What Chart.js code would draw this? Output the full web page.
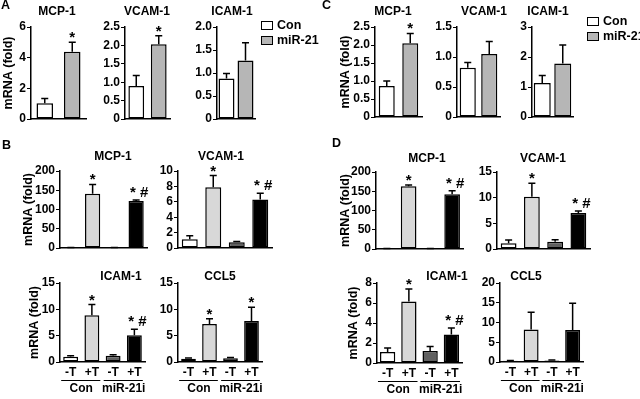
<!DOCTYPE html>
<html>
<head>
<meta charset="utf-8">
<script src="https://cdn.jsdelivr.net/npm/chart.js@4"></script>
<style>
  body { margin: 0; width: 640px; height: 399px; position: relative; overflow: hidden; background: #fff;
         font-family: "Liberation Sans", Arial, sans-serif; font-weight: bold; color: #000; }
  canvas { position: absolute; }
  .ttl { position: absolute; width: 120px; text-align: center; font-size: 12px; line-height: 14px; }
  .pnl { position: absolute; font-size: 12.5px; line-height: 14px; }
  .lg { position: absolute; font-size: 12.5px; }
  .lg div { height: 15.5px; line-height: 15.5px; white-space: nowrap; }
  .lg i { display: inline-block; box-sizing: border-box; width: 12px; height: 9px; border: 1.5px solid #000;
          vertical-align: -1px; margin-right: 4px; }
</style>
</head>
<body>
<script>
// categories
const pairLabels = ['Con', 'miR-21'];
const treatLabels = ['-T', '+T', '-T', '+T'];
const groupLabels = ['Con', 'miR-21i'];
const yTitle = 'mRNA (fold)';

// panel A (mean, error)
const aMcp = [1.03, 4.38], aMcpErr = [0.31, 0.62], aMcpSig = ['', '*'];
const aVcam = [0.9, 2.03], aVcamErr = [0.28, 0.23], aVcamSig = ['', '*'];
const aIcam = [0.88, 1.27], aIcamErr = [0.11, 0.39], aIcamSig = ['', ''];

// panel C
const cMcp = [0.86, 2.05], cMcpErr = [0.14, 0.27], cMcpSig = ['', '*'];
const cVcam = [0.82, 1.05], cVcamErr = [0.09, 0.21], cVcamSig = ['', ''];
const cIcam = [1.13, 1.78], cIcamErr = [0.25, 0.62], cIcamSig = ['', ''];

// panel B
const bMcp = [1, 141, 1, 122], bMcpErr = [0.5, 24, 0.5, 3], bMcpSig = ['', '*', '', '* #'];
const bVcam = [1.15, 7.9, 0.75, 6.3], bVcamErr = [0.45, 1.5, 0.11, 0.8], bVcamSig = ['', '*', '', '* #'];
const bIcam = [1.0, 8.9, 1.2, 5.1], bIcamErr = [0.2, 2.0, 0.2, 1.1], bIcamSig = ['', '*', '', '* #'];
const bCcl5 = [0.6, 7.2, 0.7, 7.8], bCcl5Err = [0.15, 1.0, 0.15, 2.6], bCcl5Sig = ['', '*', '', '*'];

// panel D
const dMcp = [1, 163, 1, 142], dMcpErr = [0.5, 3, 0.5, 9], dMcpSig = ['', '*', '', '* #'];
const dVcam = [1.1, 10.2, 1.4, 7.0], dVcamErr = [0.65, 2.6, 0.4, 0.4], dVcamSig = ['', '*', '', '* #'];
const dIcam = [1.1, 6.15, 1.2, 2.85], dIcamErr = [0.4, 1.25, 0.45, 0.65], dIcamSig = ['', '*', '', '* #'];
const dCcl5 = [0.3, 8.2, 0.4, 8.1], dCcl5Err = [0.1, 4.4, 0.1, 6.8], dCcl5Sig = ['', '', '', ''];

const FONT = '"Liberation Sans", Arial, sans-serif';
const pairColors = ['#ffffff', '#b6b6b6'];
const treatColors = ['#ffffff', '#d8d8d8', '#606060', '#000000'];

// where each small plot sits on the page (axis box in px)
const plots = [
  { name: 'MCP-1', x0: 31, x1: 86, top: 27, bot: 119, max: 6, step: 2, v: aMcp, e: aMcpErr, s: aMcpSig, pair: true, bar: 0.6, yt: 8, tx: 57, ty: 10.5 },
  { name: 'VCAM-1', x0: 125, x1: 170, top: 27, bot: 119, max: 2.5, step: 0.5, v: aVcam, e: aVcamErr, s: aVcamSig, pair: true, bar: 0.7, tx: 147, ty: 10.5 },
  { name: 'ICAM-1', x0: 217, x1: 255, top: 27, bot: 119, max: 2, step: 0.5, v: aIcam, e: aIcamErr, s: aIcamSig, pair: true, bar: 0.84, tx: 232, ty: 10.5 },

  { name: 'MCP-1', x0: 375, x1: 422, top: 27, bot: 117, max: 2.5, step: 0.5, v: cMcp, e: cMcpErr, s: cMcpSig, pair: true, bar: 0.68, yt: 345, tx: 393, ty: 11 },
  { name: 'VCAM-1', x0: 457, x1: 500, top: 27, bot: 117, max: 1.5, step: 0.5, v: cVcam, e: cVcamErr, s: cVcamSig, pair: true, bar: 0.75, tx: 484, ty: 11 },
  { name: 'ICAM-1', x0: 532, x1: 573, top: 27, bot: 117, max: 3, step: 1, v: cIcam, e: cIcamErr, s: cIcamSig, pair: true, bar: 0.83, tx: 548, ty: 11 },

  { name: 'MCP-1', x0: 60, x1: 147, top: 171, bot: 248, max: 200, step: 50, v: bMcp, e: bMcpErr, s: bMcpSig, bar: 0.7, yt: 28, tx: 113, ty: 156 },
  { name: 'VCAM-1', x0: 178, x1: 272, top: 171, bot: 248, max: 10, step: 2, v: bVcam, e: bVcamErr, s: bVcamSig, bar: 0.68, tx: 221, ty: 156 },
  { name: 'ICAM-1', x0: 60, x1: 145, top: 283, bot: 362, max: 15, step: 5, v: bIcam, e: bIcamErr, s: bIcamSig, bar: 0.7, yt: 34, tx: 121, ty: 276, xl: true },
  { name: 'CCL5', x0: 178, x1: 262, top: 283, bot: 362, max: 15, step: 5, v: bCcl5, e: bCcl5Err, s: bCcl5Sig, bar: 0.7, tx: 220, ty: 276, xl: true },

  { name: 'MCP-1', x0: 376, x1: 463, top: 172, bot: 249, max: 200, step: 50, v: dMcp, e: dMcpErr, s: dMcpSig, bar: 0.72, yt: 345, tx: 427, ty: 157.5 },
  { name: 'VCAM-1', x0: 497, x1: 590, top: 172, bot: 249, max: 15, step: 5, v: dVcam, e: dVcamErr, s: dVcamSig, bar: 0.68, tx: 543, ty: 157.5 },
  { name: 'ICAM-1', x0: 377, x1: 462, top: 283, bot: 363, max: 8, step: 2, v: dIcam, e: dIcamErr, s: dIcamSig, bar: 0.72, yt: 353, tx: 447, ty: 276, xl: true },
  { name: 'CCL5', x0: 500, x1: 583, top: 283, bot: 362, max: 20, step: 5, v: dCcl5, e: dCcl5Err, s: dCcl5Sig, bar: 0.72, tx: 526, ty: 276, xl: true }
];

// error bars, stars and the Con / miR-21i brackets
const extras = {
  id: 'extras',
  afterDatasetsDraw(chart) {
    const ctx = chart.ctx;
    const ds = chart.data.datasets[0];
    const bars = chart.getDatasetMeta(0).data;
    const y = chart.scales.y;
    ctx.save();
    ctx.strokeStyle = '#000';
    ctx.fillStyle = '#000';
    ctx.lineWidth = 1.5;
    bars.forEach((b, i) => {
      const base = y.getPixelForValue(ds.data[i]);
      const tip = y.getPixelForValue(ds.data[i] + ds.errors[i]);
      ctx.beginPath();
      ctx.moveTo(b.x, base);
      ctx.lineTo(b.x, tip);
      ctx.moveTo(b.x - 3.5, tip);
      ctx.lineTo(b.x + 3.5, tip);
      ctx.stroke();
      const m = ds.marks[i];
      if (m) {
        ctx.font = 'bold 15px ' + FONT;
        ctx.textAlign = 'center';
        ctx.textBaseline = 'alphabetic';
        ctx.fillText(m, b.x + (m.length > 1 ? 3 : 0), tip - (m.length > 1 ? 3 : 0));
      }
    });
    if (ds.groups) {
      const bottom = chart.chartArea.bottom;
      ctx.font = 'bold 12px ' + FONT;
      ctx.textAlign = 'center';
      ctx.textBaseline = 'middle';
      ctx.lineWidth = 1;
      ds.groups.forEach((g, k) => {
        const a = bars[k * 2], c = bars[k * 2 + 1];
        ctx.beginPath();
        ctx.moveTo(a.x - a.width / 2 - 2, bottom + 18.5);
        ctx.lineTo(c.x + c.width / 2 + 1, bottom + 18.5);
        ctx.stroke();
        ctx.fillText(g, (a.x + c.x) / 2, bottom + 27);
      });
    }
    ctx.restore();
  }
};

plots.forEach(p => {
  const topPad = 18;
  const left = Math.round(p.yt ? p.yt - 7.5 : p.x0 - 32);
  const top = p.top - topPad;
  const below = p.xl ? 36 : 10;
  const yw = p.x0 - left;
  const cv = document.createElement('canvas');
  cv.width = p.x1 - left + 6;
  cv.height = p.bot - top + below;
  cv.style.left = left + 'px';
  cv.style.top = top + 'px';
  document.body.appendChild(cv);

  new Chart(cv, {
    type: 'bar',
    data: {
      labels: p.pair ? pairLabels : treatLabels,
      datasets: [{
        data: p.v,
        errors: p.e,
        marks: p.s,
        groups: p.xl ? groupLabels : null,
        backgroundColor: p.pair ? pairColors : treatColors,
        borderColor: '#000',
        borderWidth: 1.5,
        borderSkipped: false,
        categoryPercentage: 1,
        barPercentage: p.bar
      }]
    },
    options: {
      responsive: false,
      animation: false,
      events: [],
      layout: { padding: { top: topPad, right: 6, bottom: 0, left: 0 } },
      plugins: { legend: { display: false }, tooltip: { enabled: false } },
      scales: {
        x: {
          grid: { display: false, drawTicks: false },
          border: { display: true, color: '#000', width: 1.5 },
          ticks: { display: !!p.xl, autoSkip: false, maxRotation: 0, color: '#000', padding: 3, font: { family: FONT, size: 12, weight: 'bold' } },
          afterFit: s => { s.height = below; }
        },
        y: {
          min: 0,
          max: p.max,
          grid: { display: true, drawOnChartArea: false, drawTicks: true, tickLength: 4, color: '#000', lineWidth: 1 },
          border: { display: true, color: '#000', width: 1.5 },
          ticks: { stepSize: p.step, autoSkip: false, color: '#000', padding: 1, font: { family: FONT, size: 12, weight: 'bold' } },
          title: { display: !!p.yt, text: yTitle, color: '#000', padding: 0, font: { family: FONT, size: 12.5, weight: 'bold' } },
          afterFit: s => { s.width = yw; }
        }
      }
    },
    plugins: [extras]
  });

  const t = document.createElement('div');
  t.className = 'ttl';
  t.textContent = p.name;
  t.style.left = (p.tx - 60) + 'px';
  t.style.top = (p.ty - 7) + 'px';
  document.body.appendChild(t);
});

// panel letters
[['A', 1, -2], ['C', 322, -2], ['B', 2, 138], ['D', 332, 136]].forEach(([txt, x, y]) => {
  const d = document.createElement('div');
  d.className = 'pnl';
  d.textContent = txt;
  d.style.left = x + 'px';
  d.style.top = y + 'px';
  document.body.appendChild(d);
});

// legends for A and C
[[261, 17.5], [587, 13.5]].forEach(([x, y]) => {
  const lg = document.createElement('div');
  lg.className = 'lg';
  lg.style.left = x + 'px';
  lg.style.top = y + 'px';
  pairLabels.forEach((name, i) => {
    const row = document.createElement('div');
    const box = document.createElement('i');
    box.style.background = pairColors[i];
    row.appendChild(box);
    row.appendChild(document.createTextNode(name));
    lg.appendChild(row);
  });
  document.body.appendChild(lg);
});
</script>
</body>
</html>
